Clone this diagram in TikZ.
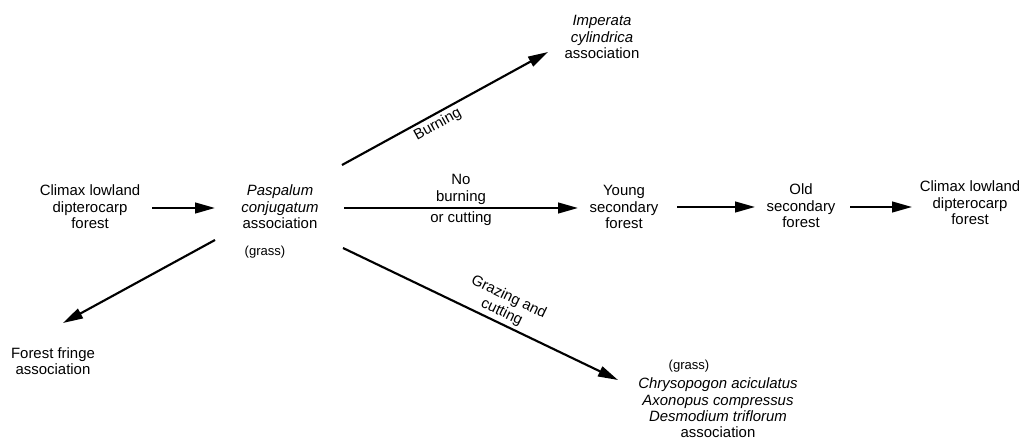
\documentclass[tikz,border=0pt]{standalone}
\usepackage{fontspec}
\setmainfont{Liberation Sans}
\usetikzlibrary{arrows.meta,calc}
\tikzset{
  txt/.style={align=center,inner sep=0pt,font=\fontsize{11.2}{12.3}\selectfont},
  small/.style={inner sep=0pt,font=\fontsize{9.8}{11}\selectfont},
  lbl/.style={align=center,inner sep=2pt,font=\fontsize{11.2}{12.3}\selectfont},
  arr/.style={line width=1.6pt,-{Triangle[length=15pt,width=8pt]}}
}
\begin{document}
\begin{tikzpicture}[x=0.75pt,y=-0.75pt]
\useasboundingbox (0,0) rectangle (1019,441);
\node[txt] (cl) at (90,207) {Climax lowland\\dipterocarp\\forest};
\node[txt] (pasp) at (280,207) {\textit{Paspalum}\\\textit{conjugatum}\\association};
\node[small] (g1) at (265,252) {(grass)};
\node[txt] (imp) at (602,37) {\textit{Imperata}\\\textit{cylindrica}\\association};
\node[txt] (young) at (624,207) {Young\\secondary\\forest};
\node[txt] (old) at (801,206) {Old\\secondary\\forest};
\node[txt] (cr) at (970,203) {Climax lowland\\dipterocarp\\forest};
\node[txt] (ff) at (53,361) {Forest fringe\\association};
\node[small] (g2) at (689,366) {(grass)};
\node[txt] (chry) at (718,408) {\textit{Chrysopogon aciculatus}\\\textit{Axonopus compressus}\\\textit{Desmodium triflorum}\\association};

\draw[arr] ($(cl)+(62,1)$) -- ($(pasp)+(-65,1)$);
\draw[arr] ($(pasp)+(62,-42)$) -- node[lbl,pos=0.44,sloped,below] {Burning} ($(imp)+(-54,15)$);
\draw[arr] ($(pasp)+(64,1)$) -- node[lbl,midway,above] {No\\burning} node[lbl,midway,below] {or cutting} ($(young)+(-46,1)$);
\draw[arr] ($(pasp)+(63,41)$) -- node[lbl,pos=0.56,sloped,above] {Grazing and\\cutting} ($(chry)+(-100,-28)$);
\draw[arr] ($(pasp)+(-65,33)$) -- ($(ff)+(10,-38)$);
\draw[arr] ($(young)+(53,0)$) -- ($(old)+(-46,1)$);
\draw[arr] ($(old)+(49,1)$) -- ($(cr)+(-58,4)$);
\end{tikzpicture}
\end{document}
